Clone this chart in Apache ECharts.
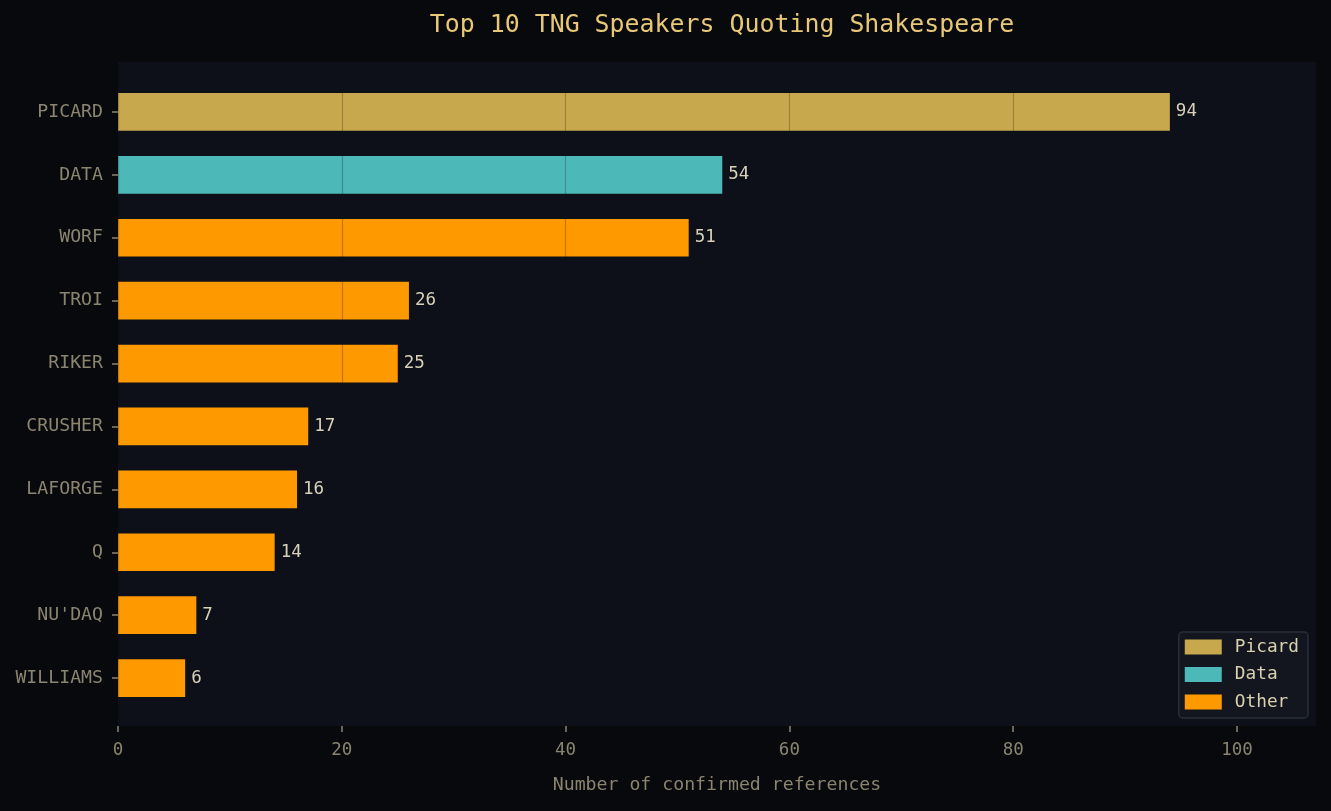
<!DOCTYPE html>
<html>
<head>
<meta charset="utf-8">
<title>Top 10 TNG Speakers Quoting Shakespeare</title>
<script src="https://cdn.jsdelivr.net/npm/echarts@6/dist/echarts.min.js"></script>
<style>
  html, body { margin: 0; padding: 0; background: #08090c; }
  #chart { width: 1331px; height: 811px; }
</style>
</head>
<body>
<div id="chart"></div>
<script>
  // data
  var speakers = ['PICARD', 'DATA', 'WORF', 'TROI', 'RIKER', 'CRUSHER', 'LAFORGE', 'Q', "NU'DAQ", 'WILLIAMS'];
  var counts = [94, 54, 51, 26, 25, 17, 16, 14, 7, 6];
  var groups = ['Picard', 'Data', 'Other', 'Other', 'Other', 'Other', 'Other', 'Other', 'Other', 'Other'];
  var groupNames = ['Picard', 'Data', 'Other'];
  var groupColors = { Picard: '#c8a84c', Data: '#4db8b8', Other: '#ff9900' };
  var xTicks = { min: 0, max: 107.06, interval: 20 };

  var font = '"DejaVu Sans Mono", "Liberation Mono", monospace';
  var tickColor = '#8a8470';
  var fs = 18.2;

  var myChart = echarts.init(document.getElementById('chart'));

  var series = groupNames.map(function (g) {
    return {
      name: g,
      type: 'bar',
      stack: 'all',
      xAxisIndex: 0,
      yAxisIndex: 0,
      barWidth: '60%',
      itemStyle: { color: groupColors[g] },
      label: {
        show: true,
        position: 'right',
        distance: 6,
        color: '#d8d0b8',
        fontFamily: font,
        fontSize: 17.5
      },
      data: counts.map(function (v, i) { return groups[i] === g ? v : '-'; })
    };
  });

  var option = {
    backgroundColor: '#08090c',
    animation: false,
    title: {
      text: 'Top 10 TNG Speakers Quoting Shakespeare',
      left: 717,
      textAlign: 'center',
      top: 8,
      textStyle: { color: '#e8c878', fontFamily: font, fontSize: 24.9, fontWeight: 'normal' }
    },
    legend: {
      orient: 'vertical',
      right: 23,
      bottom: 93,
      data: groupNames,
      icon: 'rect',
      itemWidth: 37,
      itemHeight: 15,
      itemGap: 9.5,
      padding: [6, 9, 7, 6],
      backgroundColor: '#13161e',
      borderColor: '#2a2e38',
      borderWidth: 1.5,
      borderRadius: 4,
      textStyle: { color: '#d8d0b0', fontFamily: font, fontSize: 17.8, padding: [0, 0, 0, 8] }
    },
    grid: [
      { left: 118, right: 15, top: 80.5, bottom: 101.5 },
      { left: 118, right: 15, top: 62, bottom: 85, show: true, backgroundColor: '#0d1018', borderWidth: 0 }
    ],
    xAxis: [
      {
        type: 'value', gridIndex: 0, min: xTicks.min, max: xTicks.max, interval: xTicks.interval,
        show: false
      },
      {
        type: 'value', gridIndex: 1, min: xTicks.min, max: xTicks.max, interval: xTicks.interval,
        z: 3,
        name: 'Number of confirmed references',
        nameLocation: 'middle',
        nameGap: 50,
        nameTextStyle: { color: tickColor, fontFamily: font, fontSize: fs },
        axisLine: { show: false },
        axisTick: { show: true, length: 6, lineStyle: { color: tickColor, width: 1.5 } },
        axisLabel: { color: tickColor, fontFamily: font, fontSize: 17.5, margin: 15, showMaxLabel: false },
        splitLine: { show: true, lineStyle: { color: 'rgba(20,20,20,0.25)', width: 1.2 } }
      }
    ],
    yAxis: [
      {
        type: 'category', gridIndex: 0, data: speakers, inverse: true,
        axisLine: { show: false },
        axisTick: { show: true, alignWithLabel: true, length: 6, lineStyle: { color: tickColor, width: 1.5 } },
        axisLabel: { color: tickColor, fontFamily: font, fontSize: fs, margin: 15 },
        splitLine: { show: false }
      },
      { type: 'value', gridIndex: 1, show: false }
    ],
    series: series
  };

  myChart.setOption(option);
</script>
</body>
</html>
